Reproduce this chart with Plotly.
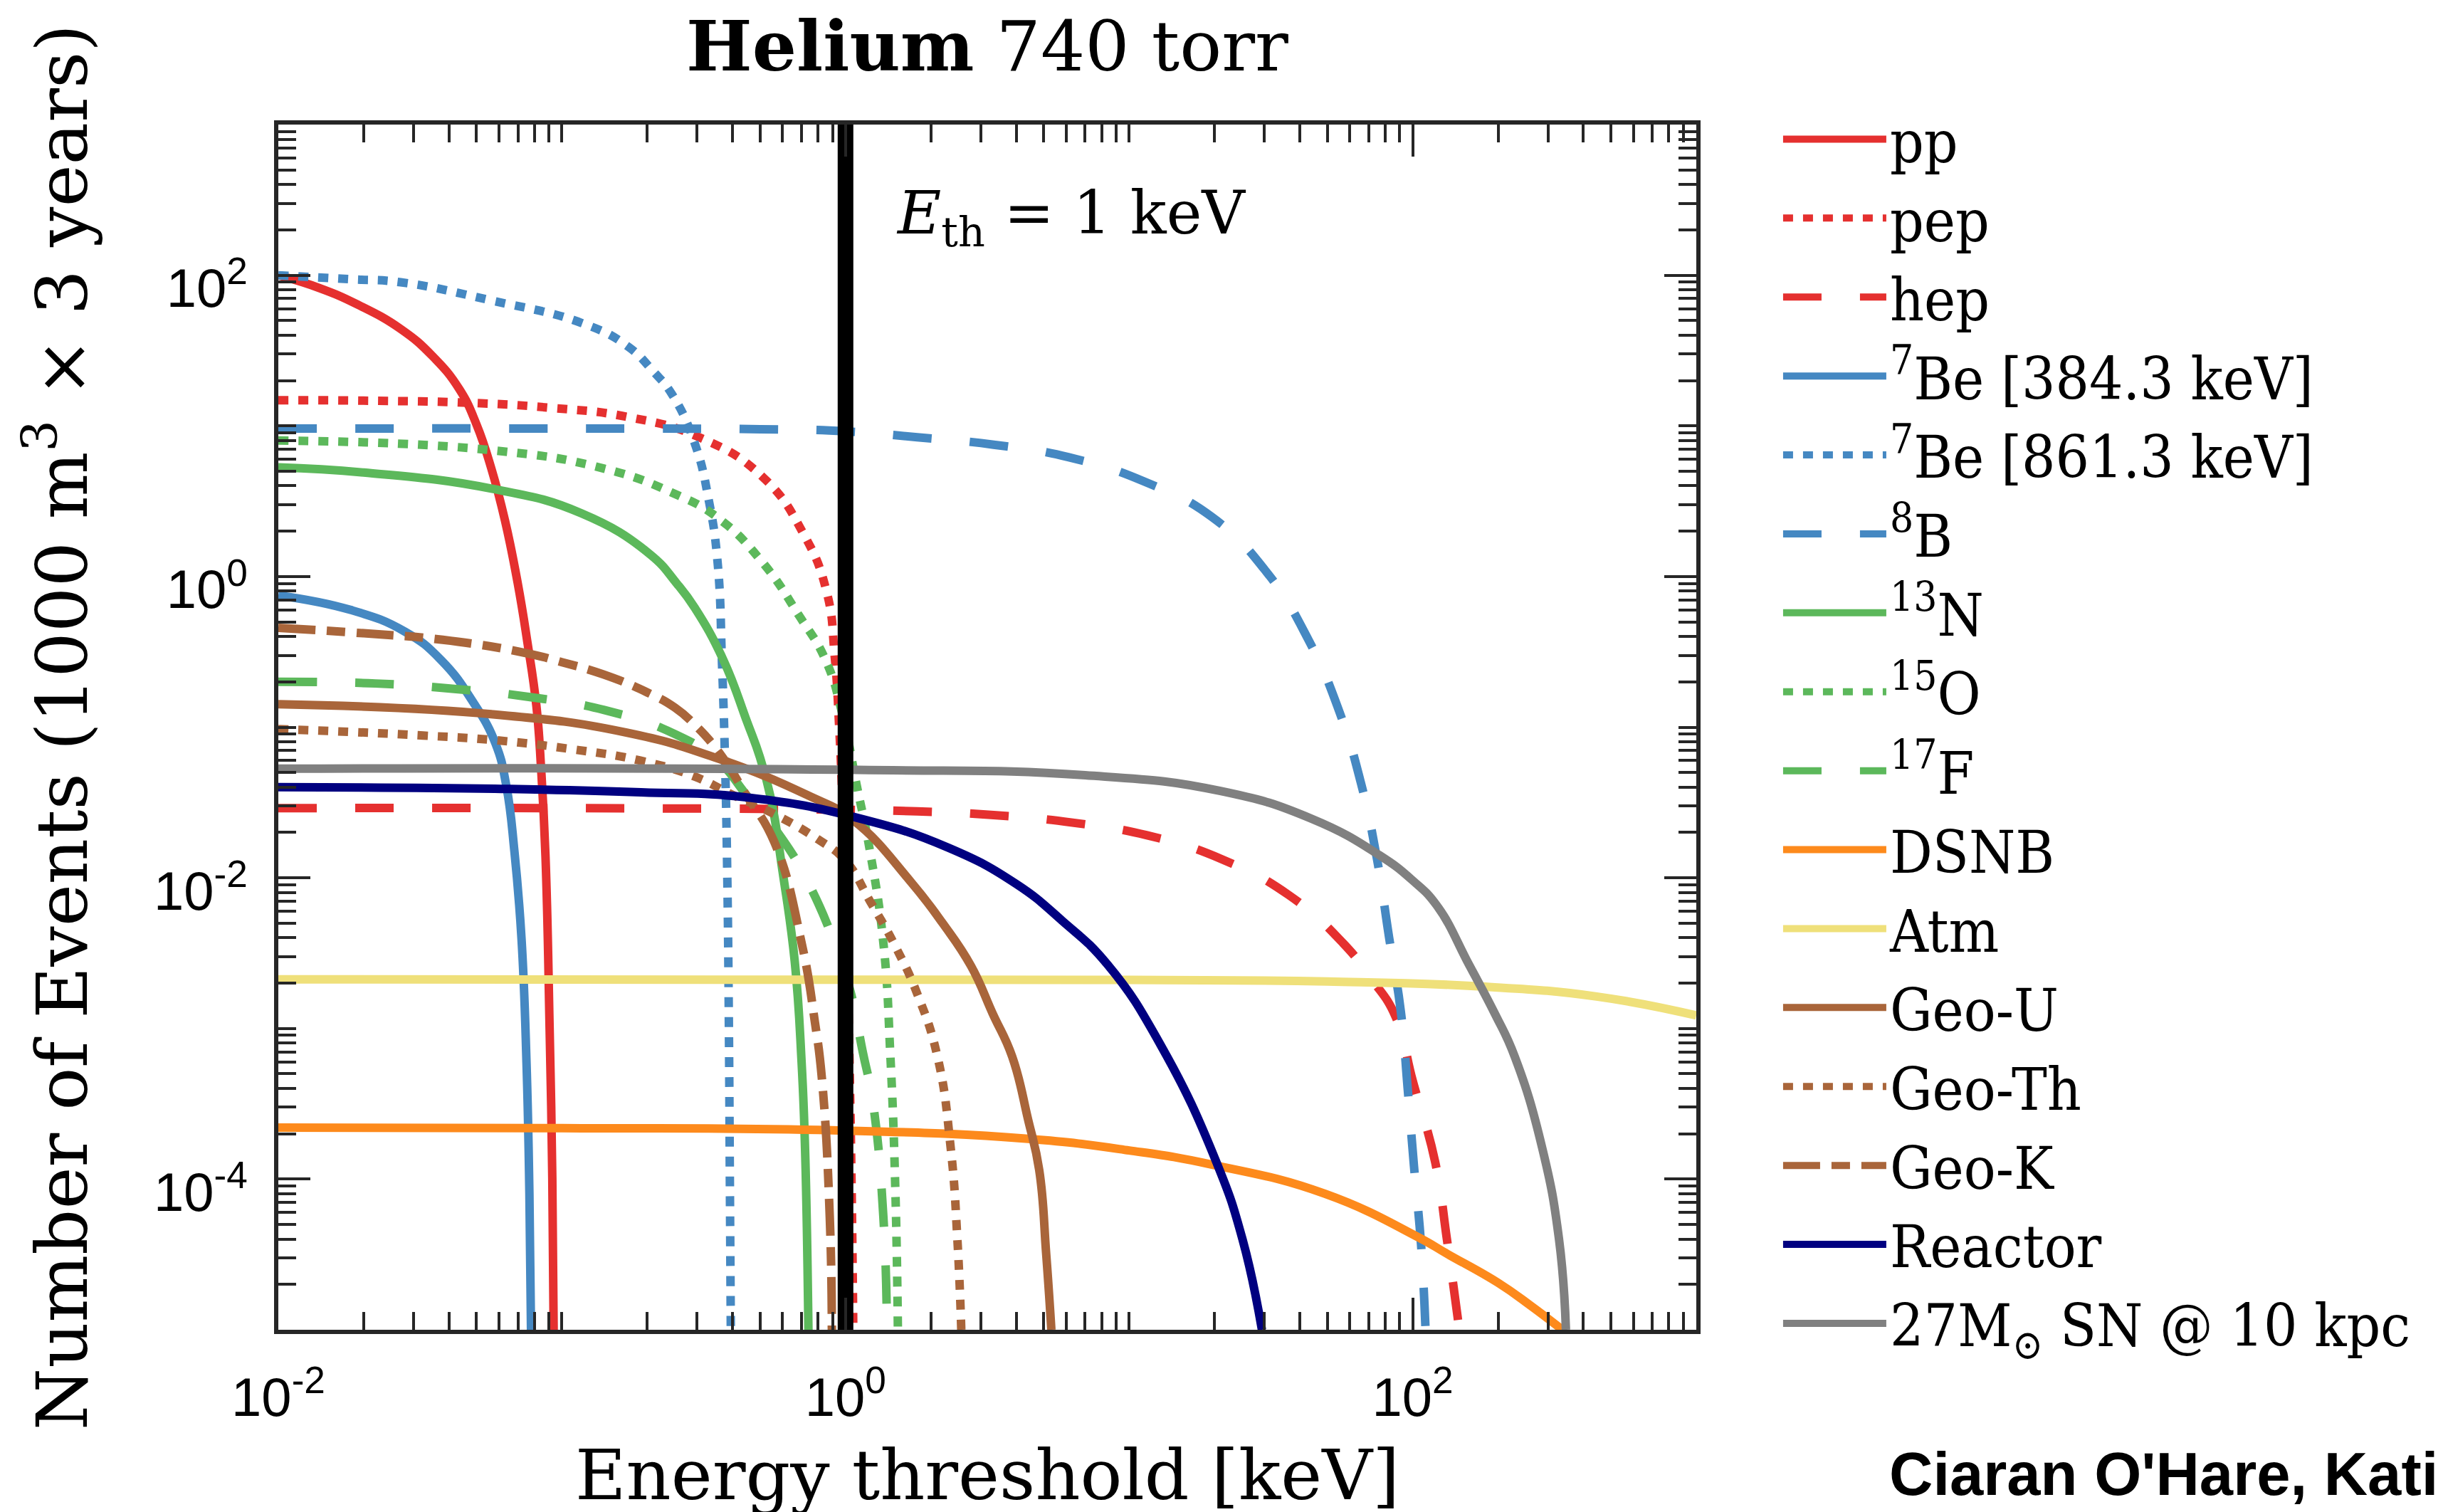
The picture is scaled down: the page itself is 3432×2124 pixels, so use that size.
import plotly.graph_objects as go

# ---------------- data ----------------
pp_E = [0.01, 0.014, 0.019, 0.027, 0.035, 0.0435, 0.05, 0.0564, 0.063, 0.0698, 0.0755, 0.0813, 0.0845, 0.0875, 0.0905, 0.0925, 0.0935]
pp_N = [100, 82, 64, 44, 29, 17.5, 10.2, 5.2, 2.35, 0.91, 0.37, 0.138, 0.052, 0.014, 1e-3, 1e-4, 1e-5]

pep_E = [0.01, 0.02, 0.0484, 0.09, 0.169, 0.305, 0.509, 0.711, 0.857, 0.916, 0.95, 0.98, 1.01, 1.035, 1.055, 1.065]
pep_N = [14.8, 14.7, 14.2, 13.2, 11.5, 8.4, 4.6, 1.92, 0.80, 0.295, 0.1, 0.025, 4e-3, 5e-4, 5e-5, 1e-5]

hep_E = [0.01, 0.1, 1.0, 1.79, 3.33, 6.25, 11.5, 21, 36.5, 56.7, 72, 87, 100, 120, 132, 146]
hep_N = [0.029, 0.029, 0.0283, 0.0276, 0.0261, 0.0233, 0.0192, 0.0134, 0.0077, 0.0037, 0.0021, 0.0012, 4.5e-4, 1.3e-4, 4e-5, 1e-5]

be7a_E = [0.01, 0.018, 0.028, 0.0375, 0.0488, 0.0583, 0.0637, 0.068, 0.072, 0.075, 0.0768, 0.0778]
be7a_N = [0.75, 0.6, 0.43, 0.279, 0.145, 0.078, 0.0406, 0.015, 0.004, 6e-4, 8e-5, 1e-5]

be7b_E = [0.01, 0.018, 0.027, 0.0564, 0.117, 0.169, 0.21, 0.245, 0.294, 0.33, 0.354, 0.367, 0.376, 0.383, 0.388, 0.391, 0.394]
be7b_N = [100, 94, 89.8, 68, 48.3, 34.2, 23, 16.1, 7.66, 3.16, 1.24, 0.26, 0.06, 0.01, 1e-3, 1e-4, 1e-5]

b8_E = [0.01, 0.1, 0.5, 1.0, 1.79, 3.33, 6.1, 11.2, 19.5, 30.3, 42.3, 54.7, 65.6, 74.8, 82.6, 90.8, 96, 101, 107, 111]
b8_N = [9.6, 9.6, 9.5, 9.2, 8.4, 7.5, 6.2, 4.3, 2.5, 1.09, 0.40, 0.132, 0.043, 0.0134, 0.004, 0.0013, 4e-4, 1.23e-4, 3.7e-5, 1e-5]

n13_E = [0.01, 0.02, 0.0564, 0.117, 0.204, 0.254, 0.294, 0.371, 0.45, 0.498, 0.545, 0.6, 0.662, 0.7, 0.72, 0.74]
n13_N = [5.3, 4.9, 3.83, 2.63, 1.41, 0.9, 0.62, 0.279, 0.108, 0.064, 0.034, 0.011, 0.0028, 6e-4, 1.6e-4, 1e-5]

o15_E = [0.01, 0.0564, 0.141, 0.245, 0.354, 0.51, 0.686, 0.85, 0.975, 1.09, 1.22, 1.36, 1.44, 1.5, 1.53]
o15_N = [8.0, 6.9, 5.2, 3.6, 2.46, 1.24, 0.55, 0.28, 0.122, 0.043, 0.015, 0.0037, 6.5e-4, 8e-5, 1e-5]

f17_E = [0.01, 0.022, 0.041, 0.078, 0.141, 0.25, 0.354, 0.45, 0.6, 0.74, 0.9, 1.03, 1.15, 1.25, 1.36, 1.4]
f17_N = [0.2, 0.195, 0.18, 0.158, 0.13, 0.09, 0.06, 0.035, 0.018, 0.0092, 0.004, 0.0019, 7e-4, 3.2e-4, 5.6e-5, 1e-5]

dsnb_E = [0.01, 0.1, 1.0, 4.4, 10, 19.5, 49, 105, 132, 200, 260, 337]
dsnb_N = [2.2e-4, 2.18e-4, 2.1e-4, 1.85e-4, 1.55e-4, 1.25e-4, 8e-5, 4.1e-5, 3.2e-5, 2.05e-5, 1.45e-5, 1e-5]

atm_E = [0.01, 10, 50, 174, 445, 1000]
atm_N = [2.12e-3, 2.1e-3, 2.05e-3, 1.9e-3, 1.63e-3, 1.22e-3]

geou_E = [0.01, 0.0564, 0.169, 0.354, 0.736, 1.065, 1.7, 2.2, 2.77, 3.3, 3.87, 4.4, 4.82, 5.1, 5.32]
geou_N = [0.142, 0.122, 0.092, 0.062, 0.0353, 0.0241, 0.0094, 0.005, 0.0026, 0.00126, 6.5e-4, 2.5e-4, 1.15e-4, 3.2e-5, 1e-5]

geoth_E = [0.01, 0.018, 0.0324, 0.058, 0.105, 0.189, 0.294, 0.394, 0.55, 0.8, 1.0, 1.22, 1.5, 1.79, 2.11, 2.35, 2.48, 2.56]
geoth_N = [0.097, 0.093, 0.088, 0.082, 0.072, 0.06, 0.047, 0.036, 0.027, 0.018, 0.013, 0.007, 0.0035, 0.0017, 6.5e-4, 1.6e-4, 4e-5, 1e-5]

geok_E = [0.01, 0.02, 0.038, 0.075, 0.1, 0.14, 0.2, 0.25, 0.3, 0.354, 0.4, 0.44, 0.56, 0.7, 0.78, 0.826, 0.88, 0.895]
geok_N = [0.456, 0.42, 0.38, 0.31, 0.27, 0.224, 0.17, 0.135, 0.1, 0.07, 0.05, 0.037, 0.0174, 0.0037, 1.1e-3, 4.6e-4, 5.6e-5, 1e-5]

reactor_E = [0.01, 0.058, 0.19, 0.46, 1.1, 2.31, 4.0, 5.8, 8.4, 13, 20.3, 25.1, 29.4]
reactor_N = [0.040, 0.039, 0.037, 0.034, 0.025, 0.0158, 0.0091, 0.0052, 0.00265, 7.6e-4, 1.3e-4, 4e-5, 1e-5]

sn_E = [0.01, 1.11, 7.0, 21, 43.9, 76, 100, 122, 158, 195, 229, 286, 328, 347]
sn_N = [0.053, 0.052, 0.048, 0.0377, 0.0247, 0.0142, 0.0096, 0.0065, 0.00265, 1.25e-3, 6.5e-4, 1.62e-4, 4e-5, 1e-5]

E_th = 1.0  # keV threshold marker

series_names = ["pp", "pep", "hep", "<sup>7</sup>Be [384.3 keV]", "<sup>7</sup>Be [861.3 keV]",
                "<sup>8</sup>B", "<sup>13</sup>N", "<sup>15</sup>O", "<sup>17</sup>F", "DSNB", "Atm",
                "Geo-U", "Geo-Th", "Geo-K", "Reactor", "27M<sub>⊙</sub> SN @ 10 kpc"]
series_E = [pp_E, pep_E, hep_E, be7a_E, be7b_E, b8_E, n13_E, o15_E, f17_E, dsnb_E, atm_E,
            geou_E, geoth_E, geok_E, reactor_E, sn_E]
series_N = [pp_N, pep_N, hep_N, be7a_N, be7b_N, b8_N, n13_N, o15_N, f17_N, dsnb_N, atm_N,
            geou_N, geoth_N, geok_N, reactor_N, sn_N]

x_range_log = [-2, 3]
y_range_log = [-5, 3]
x_major = [1e-2, 1e0, 1e2]
x_major_text = ["10<sup>-2</sup>", "10<sup>0</sup>", "10<sup>2</sup>"]
y_major = [1e-4, 1e-2, 1e0, 1e2]
y_major_text = ["10<sup>-4</sup>", "10<sup>-2</sup>", "10<sup>0</sup>", "10<sup>2</sup>"]

# ---------------- styles ----------------
RED, BLUE, GREEN = "#E5302F", "#4588C2", "#5CB85B"
ORANGE, YELLOW, BROWN = "#FD8A1C", "#EFE07A", "#A9653A"
NAVY, GRAY = "#000080", "#808080"
DOT = "14px,14px"
DASH = "54px,54px"
DASHDOT = "52px,16px,26px,16px"
styles = [(RED, "solid"), (RED, DOT), (RED, DASH),
          (BLUE, "solid"), (BLUE, DOT), (BLUE, DASH),
          (GREEN, "solid"), (GREEN, DOT), (GREEN, DASH),
          (ORANGE, "solid"), (YELLOW, "solid"),
          (BROWN, "solid"), (BROWN, DOT), (BROWN, DASHDOT),
          (NAVY, "solid"), (GRAY, "solid")]
LW = 12
SERIF = "DejaVu Serif"
LEG_SERIF = "DejaVu Serif Condensed, DejaVu Serif"
SANS = "Liberation Sans"
AX = "#262626"

fig = go.Figure()
for name, E, N, (col, dash) in zip(series_names, series_E, series_N, styles):
    fig.add_trace(go.Scatter(x=E, y=N, mode="lines", name=name,
                             line=dict(color=col, width=LW, dash=dash, shape="spline", smoothing=1.3)))

fig.add_trace(go.Scatter(x=[E_th, E_th], y=[10 ** y_range_log[0], 10 ** y_range_log[1]],
                         mode="lines", line=dict(color="black", width=22), showlegend=False,
                         hoverinfo="skip"))

def minor_vals(lo, hi, majors):
    out = []
    for d in range(lo, hi + 1):
        for m in range(1, 10):
            v = m * 10.0 ** d
            if 10.0 ** lo <= v <= 10.0 ** hi and all(abs(v - M) / M > 1e-9 for M in majors):
                out.append(v)
    return out

axis_common = dict(type="log", showgrid=False, zeroline=False, showline=True, linewidth=6,
                   linecolor=AX, mirror="allticks", ticks="inside", ticklen=45, tickwidth=4,
                   tickcolor=AX, tickfont=dict(family=SANS, size=76, color="black"))

fig.update_xaxes(range=x_range_log, tickmode="array", tickvals=x_major, ticktext=x_major_text,
                 minor=dict(tickvals=minor_vals(-2, 3, x_major), ticks="inside", ticklen=25,
                            tickwidth=4, tickcolor=AX, showgrid=False),
                 ticklabelstandoff=24,
                 **axis_common)
fig.update_yaxes(range=y_range_log, tickmode="array", tickvals=y_major, ticktext=y_major_text,
                 minor=dict(tickvals=minor_vals(-5, 3, y_major), ticks="inside", ticklen=25,
                            tickwidth=4, tickcolor=AX, showgrid=False),
                 ticklabelstandoff=22, ticklabelshift=18,
                 title=dict(text="Number of Events (1000 m<sup>3</sup> × 3 years)",
                            font=dict(family=SERIF, size=100, color="black"), standoff=62),
                 **axis_common)

fig.update_layout(
    width=3432, height=2124,
    margin=dict(l=383, r=1057, t=167, b=264, autoexpand=False),
    paper_bgcolor="white", plot_bgcolor="white",
    title=dict(text="<b>Helium</b> 740 torr", x=0.5, xref="paper", xanchor="center",
               y=1 - 57 / 2124, yref="container", yanchor="middle",
               font=dict(family=SERIF, size=98, color="black")),
    legend=dict(x=1.0587, xanchor="left", xref="paper", y=1 - 127 / 2124, yanchor="top", yref="container",
                maxheight=2100, font=dict(family=LEG_SERIF, size=83, color="black"),
                itemwidth=145, bgcolor="rgba(0,0,0,0)", borderwidth=0, tracegroupgap=0),
    annotations=[
        dict(text="Energy threshold [keV]", xref="paper", yref="paper", x=0.5, y=-0.1205,
             xanchor="center", yanchor="middle", showarrow=False,
             font=dict(family=SERIF, size=98, color="black")),
        dict(text="<i>E</i><sub>th</sub> = 1 keV", xref="paper", yref="paper", x=0.4345, y=0.923,
             xanchor="left", yanchor="middle", showarrow=False,
             font=dict(family=SERIF, size=84, color="black")),
        dict(text="<b>Ciaran O'Hare, Kati</b>", xref="paper", yref="paper", x=1.135, y=-0.1195,
             xanchor="left", yanchor="middle", showarrow=False,
             font=dict(family=SANS, size=85, color="black")),
    ],
)

fig.write_html("out.html")
